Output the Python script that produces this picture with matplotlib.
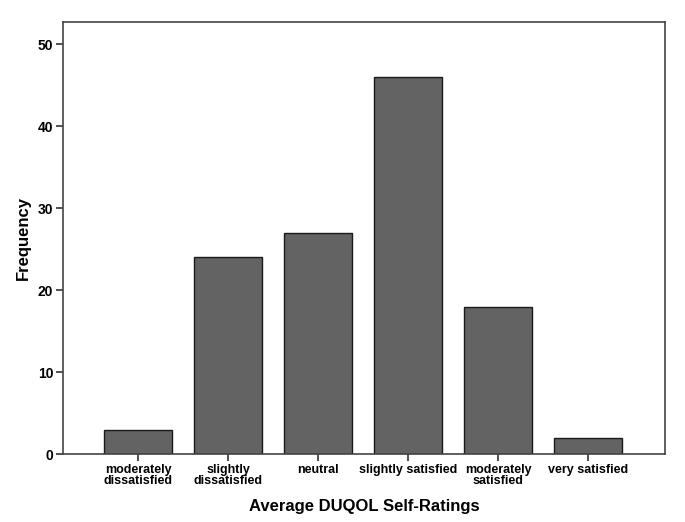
import matplotlib
matplotlib.use("Agg")
import matplotlib.pyplot as plt

categories = ["moderately\ndissatisfied", "slightly\ndissatisfied", "neutral",
              "slightly satisfied", "moderately\nsatisfied", "very satisfied"]
frequencies = [3, 24, 27, 46, 18, 2]
yticks = [0, 10, 20, 30, 40, 50]

plt.rcParams['font.family'] = ['Liberation Sans', 'DejaVu Sans']
fig = plt.figure(figsize=(6.85, 5.22), dpi=100)
ax = fig.add_axes([0.092, 0.130, 0.879, 0.828])
x = list(range(len(categories)))
ax.bar(x, frequencies, width=0.756, color='#636363', edgecolor='#1a1a1a', linewidth=1.0)
ax.set_xlim(-0.833, 5.856)
ax.set_ylim(0, 52.7)
ax.set_yticks(yticks)
ax.set_yticklabels([str(v) for v in yticks], fontsize=10, fontweight='bold')
ax.set_xticks(x)
ax.set_xticklabels(categories, fontsize=9, fontweight='bold', linespacing=0.95)
ax.tick_params(axis='both', direction='out', length=5, width=1.2, color='#333333', pad=2)
for s in ax.spines.values():
    s.set_linewidth(1.2)
    s.set_color('#444444')
ax.set_xlabel("Average DUQOL Self-Ratings", fontsize=12, fontweight='bold', labelpad=8)
ax.set_ylabel("Frequency", fontsize=12, fontweight='bold', labelpad=5)
fig.savefig("out.png", dpi=100)
